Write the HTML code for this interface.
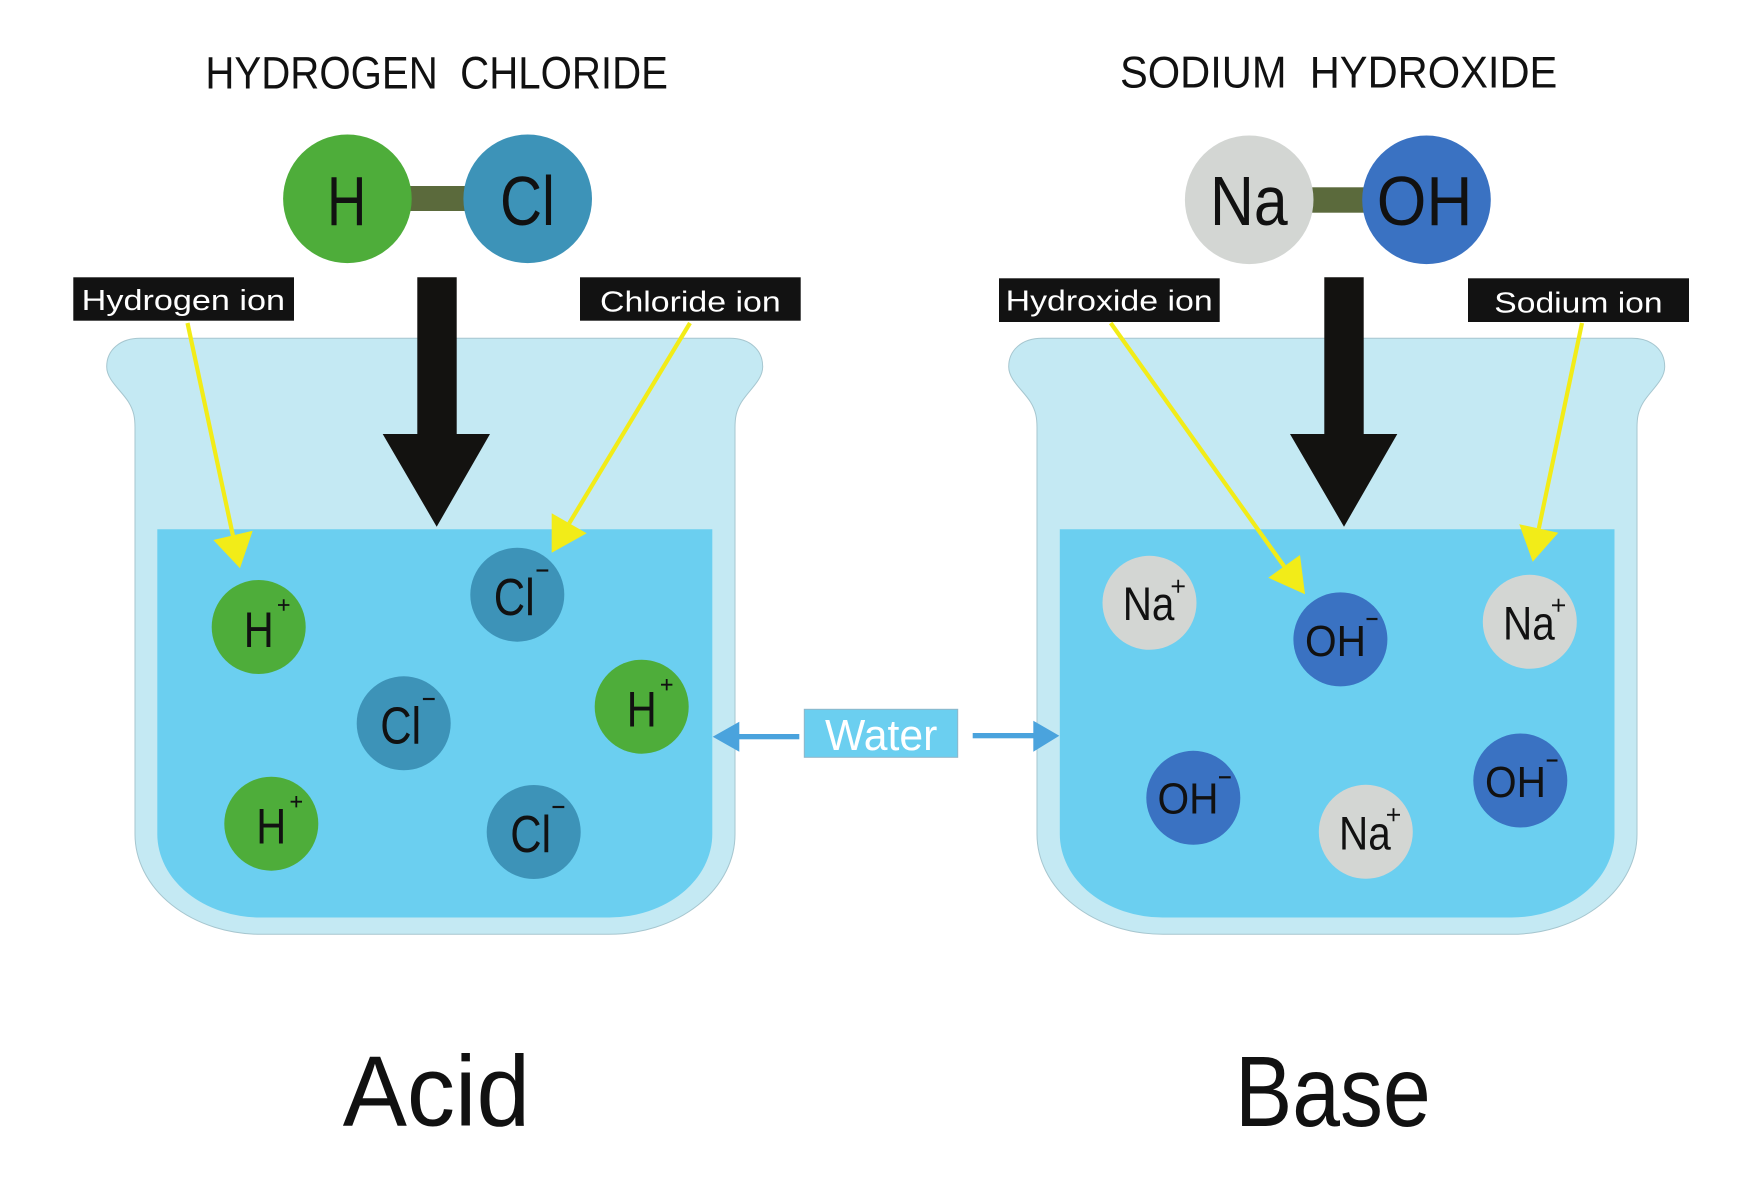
<!DOCTYPE html>
<html>
<head>
<meta charset="utf-8">
<style>
  html,body{margin:0;padding:0;background:#fff;}
  svg{display:block;}
  text{font-family:"Liberation Sans",sans-serif;}
</style>
</head>
<body>
<svg width="1757" height="1193" viewBox="0 0 1757 1193" xmlns="http://www.w3.org/2000/svg">
  <rect width="1757" height="1193" fill="#ffffff"/>

  <!-- Titles -->
  <text x="205.4" y="88.3" font-size="45" fill="#111" textLength="462.6" lengthAdjust="spacingAndGlyphs">HYDROGEN&#160; CHLORIDE</text>
  <text x="1120" y="87.3" font-size="44.5" fill="#111" textLength="437.3" lengthAdjust="spacingAndGlyphs">SODIUM&#160; HYDROXIDE</text>

  <!-- HCl molecule -->
  <rect x="408" y="186" width="60" height="25" fill="#5b6a3c"/>
  <circle cx="347.4" cy="198.8" r="64.3" fill="#4ead3a"/>
  <circle cx="527.7" cy="198.8" r="64.3" fill="#3d93b8"/>
  <text x="327" y="225" font-size="70" fill="#111" textLength="39.4" lengthAdjust="spacingAndGlyphs">H</text>
  <text x="500" y="225" font-size="70" fill="#111" textLength="55" lengthAdjust="spacingAndGlyphs">Cl</text>

  <!-- NaOH molecule -->
  <rect x="1308" y="187.3" width="60" height="25.4" fill="#5b6a3c"/>
  <circle cx="1249.2" cy="199.8" r="64.3" fill="#d3d6d3"/>
  <circle cx="1426.5" cy="199.8" r="64.3" fill="#3a72c2"/>
  <text x="1210" y="225" font-size="70" fill="#111" textLength="77.7" lengthAdjust="spacingAndGlyphs">Na</text>
  <text x="1376.7" y="225" font-size="70" fill="#111" textLength="95.7" lengthAdjust="spacingAndGlyphs">OH</text>

  <!-- Left beaker -->
  <path d="M140 338.3 L730 338.3 C750 338.3 762.7 350 762.7 366.7 C762.7 380 749 390 741.5 402 C736 411 735 418 735 428 L735 834 A126 100 0 0 1 609 934.3 L261 934.3 A126 100 0 0 1 135 834 L135 428 C135 418 134 411 128.5 402 C121 390 106.7 380 106.7 366.7 C106.7 350 120 338.3 140 338.3 Z" fill="#c4e9f3" stroke="#a6c6cf" stroke-width="1"/>
  <path d="M157.3 529.3 L712.3 529.3 L712.3 834 A103 83.5 0 0 1 609.3 917.5 L260.3 917.5 A103 83.5 0 0 1 157.3 834 Z" fill="#6bcff0"/>

  <!-- Right beaker -->
  <g transform="translate(902,0)">
    <path d="M140 338.3 L730 338.3 C750 338.3 762.7 350 762.7 366.7 C762.7 380 749 390 741.5 402 C736 411 735 418 735 428 L735 834 A126 100 0 0 1 609 934.3 L261 934.3 A126 100 0 0 1 135 834 L135 428 C135 418 134 411 128.5 402 C121 390 106.7 380 106.7 366.7 C106.7 350 120 338.3 140 338.3 Z" fill="#c4e9f3" stroke="#a6c6cf" stroke-width="1"/>
    <path d="M157.8 529.3 L712.5 529.3 L712.5 834 A103 83.5 0 0 1 609.5 917.5 L260.8 917.5 A103 83.5 0 0 1 157.8 834 Z" fill="#6bcff0"/>
  </g>

  <!-- Big black arrows -->
  <polygon points="417.3,277.3 456.7,277.3 456.7,434 490,434 436.7,526.7 382.7,434 417.3,434" fill="#131210"/>
  <polygon points="1324.3,277.3 1363.7,277.3 1363.7,434 1397.3,434 1344,526.7 1290,434 1324.3,434" fill="#131210"/>

  <!-- Label boxes -->
  <rect x="73.3" y="277.3" width="220.7" height="43.4" fill="#121212"/>
  <text x="81.7" y="310" font-size="29" fill="#fff" textLength="203.3" lengthAdjust="spacingAndGlyphs">Hydrogen ion</text>
  <rect x="580" y="277.3" width="220.7" height="43.4" fill="#121212"/>
  <text x="600" y="311.7" font-size="29" fill="#fff" textLength="180.7" lengthAdjust="spacingAndGlyphs">Chloride ion</text>
  <rect x="999" y="278.3" width="220.7" height="43.7" fill="#121212"/>
  <text x="1005.7" y="310.7" font-size="29" fill="#fff" textLength="207" lengthAdjust="spacingAndGlyphs">Hydroxide ion</text>
  <rect x="1468" y="278.3" width="221" height="43.7" fill="#121212"/>
  <text x="1494.3" y="312.7" font-size="29" fill="#fff" textLength="168.3" lengthAdjust="spacingAndGlyphs">Sodium ion</text>

  <!-- Left ions: H+ -->
  <g fill="#4ead3a">
    <circle cx="258.7" cy="627" r="47"/>
    <circle cx="641.7" cy="706.7" r="47"/>
    <circle cx="271.3" cy="823.7" r="47"/>
  </g>
  <g font-size="50" fill="#111">
    <text x="243.7" y="647" textLength="30" lengthAdjust="spacingAndGlyphs">H</text>
    <text x="626.7" y="726.7" textLength="30" lengthAdjust="spacingAndGlyphs">H</text>
    <text x="256.3" y="843.7" textLength="30" lengthAdjust="spacingAndGlyphs">H</text>
  </g>
  <g stroke="#111" stroke-width="1.8" fill="none">
    <path d="M278 605 h11.4 M283.7 599.3 v11.4"/>
    <path d="M661 684.7 h11.4 M666.7 679 v11.4"/>
    <path d="M290.6 801.7 h11.4 M296.3 796 v11.4"/>
  </g>

  <!-- Left ions: Cl- -->
  <g fill="#3d93b8">
    <circle cx="517.3" cy="594.7" r="47"/>
    <circle cx="403.7" cy="723.3" r="47"/>
    <circle cx="533.7" cy="832" r="47"/>
  </g>
  <g font-size="52" fill="#111">
    <text x="493.8" y="615" textLength="41" lengthAdjust="spacingAndGlyphs">Cl</text>
    <text x="380.2" y="743.6" textLength="41" lengthAdjust="spacingAndGlyphs">Cl</text>
    <text x="510.2" y="852" textLength="41" lengthAdjust="spacingAndGlyphs">Cl</text>
  </g>
  <g stroke="#111" stroke-width="2.2">
    <line x1="536.5" y1="570.5" x2="548.3" y2="570.5"/>
    <line x1="422.9" y1="699" x2="434.7" y2="699"/>
    <line x1="552.5" y1="807" x2="564.3" y2="807"/>
  </g>

  <!-- Right ions: Na+ -->
  <g fill="#d3d6d3">
    <circle cx="1149.5" cy="602.8" r="47"/>
    <circle cx="1529.8" cy="621.8" r="47"/>
    <circle cx="1365.8" cy="831.8" r="47"/>
  </g>
  <g font-size="47" fill="#111">
    <text x="1122.7" y="620.2" textLength="51.7" lengthAdjust="spacingAndGlyphs">Na</text>
    <text x="1503" y="639.3" textLength="51.7" lengthAdjust="spacingAndGlyphs">Na</text>
    <text x="1339" y="849.3" textLength="51.7" lengthAdjust="spacingAndGlyphs">Na</text>
  </g>
  <g stroke="#111" stroke-width="1.8" fill="none">
    <path d="M1171.7 586.3 h13 M1178.2 579.8 v13"/>
    <path d="M1552 605.3 h13 M1558.5 598.8 v13"/>
    <path d="M1387 814.8 h13 M1393.5 808.3 v13"/>
  </g>

  <!-- Right ions: OH- -->
  <g fill="#3a72c2">
    <circle cx="1340.4" cy="639.4" r="47"/>
    <circle cx="1193.3" cy="797.8" r="47"/>
    <circle cx="1520.3" cy="780.5" r="47"/>
  </g>
  <g font-size="44" fill="#111">
    <text x="1305" y="656" textLength="61" lengthAdjust="spacingAndGlyphs">OH</text>
    <text x="1157.5" y="813.5" textLength="61" lengthAdjust="spacingAndGlyphs">OH</text>
    <text x="1485" y="796.8" textLength="61" lengthAdjust="spacingAndGlyphs">OH</text>
  </g>
  <g stroke="#111" stroke-width="2.2">
    <line x1="1366.5" y1="619" x2="1377.5" y2="619"/>
    <line x1="1219" y1="777.3" x2="1230.7" y2="777.3"/>
    <line x1="1546.7" y1="760.5" x2="1557.5" y2="760.5"/>
  </g>

  <!-- Yellow pointer lines -->
  <g stroke="#f2ec18" stroke-width="4.2" fill="none">
    <line x1="187.5" y1="323" x2="233" y2="536"/>
    <line x1="690" y1="323" x2="569.2" y2="523.3"/>
    <line x1="1110.7" y1="323" x2="1284.2" y2="566.4"/>
    <line x1="1582" y1="323" x2="1538.8" y2="528.5"/>
  </g>
  <g fill="#f2ec18">
    <polygon points="213.3,540 252.7,530.7 240,568.3"/>
    <polygon points="551.7,513.3 586.7,533.3 551.7,552.7"/>
    <polygon points="1268.3,577.7 1300,555 1305,594.3"/>
    <polygon points="1519.3,524.3 1558.3,532.7 1532.7,561.7"/>
  </g>

  <!-- Water label and arrows -->
  <rect x="804.3" y="709.3" width="153.4" height="48" fill="#6bcff0" stroke="#8fb6c9" stroke-width="1"/>
  <text x="825" y="750" font-size="43.5" fill="#ffffff" textLength="112.3" lengthAdjust="spacingAndGlyphs">Water</text>
  <g fill="#4aa3dd">
    <rect x="738" y="734" width="61.3" height="5.3"/>
    <polygon points="712.7,736.7 739.3,721.7 739.3,751.7"/>
    <rect x="972.7" y="733" width="62" height="5.3"/>
    <polygon points="1059.3,735.7 1033.3,720.7 1033.3,751.7"/>
  </g>

  <!-- Bottom labels -->
  <text x="342.7" y="1125.7" font-size="100" fill="#111" textLength="187.3" lengthAdjust="spacingAndGlyphs">Acid</text>
  <text x="1235" y="1126" font-size="100" fill="#111" textLength="195.7" lengthAdjust="spacingAndGlyphs">Base</text>
</svg>
</body>
</html>
